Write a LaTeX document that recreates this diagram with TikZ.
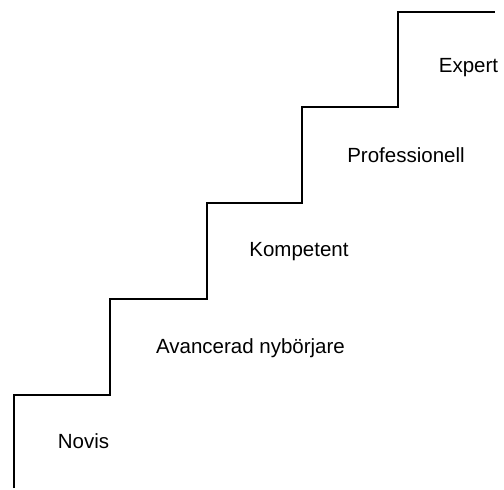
\documentclass[tikz,border=0pt]{standalone}
\usepackage{fontspec}
\setmainfont{Liberation Sans}
\usetikzlibrary{positioning}

\begin{document}
\begin{tikzpicture}[x=0.5pt, y=-0.5pt,
  stage/.style={font=\fontsize{10.25}{12}\selectfont, anchor=base, inner sep=0pt}]
  \useasboundingbox (0,0) rectangle (504,489);
  % Trappan
  \draw[line width=1pt] (14,488) |- (110,395) |- (207,299) |- (302,203) |- (398,107) |- (495,12);
  % Stegen
  \node[stage] (novis) at (83.5,448) {Novis};
  \node[stage] (avancerad) at (250.5,353) {Avancerad nybörjare};
  \node[stage] (kompetent) at (299,256) {Kompetent};
  \node[stage] (professionell) at (406,162) {Professionell};
  \node[stage] (expert) at (468.5,72) {Expert};
\end{tikzpicture}
\end{document}
